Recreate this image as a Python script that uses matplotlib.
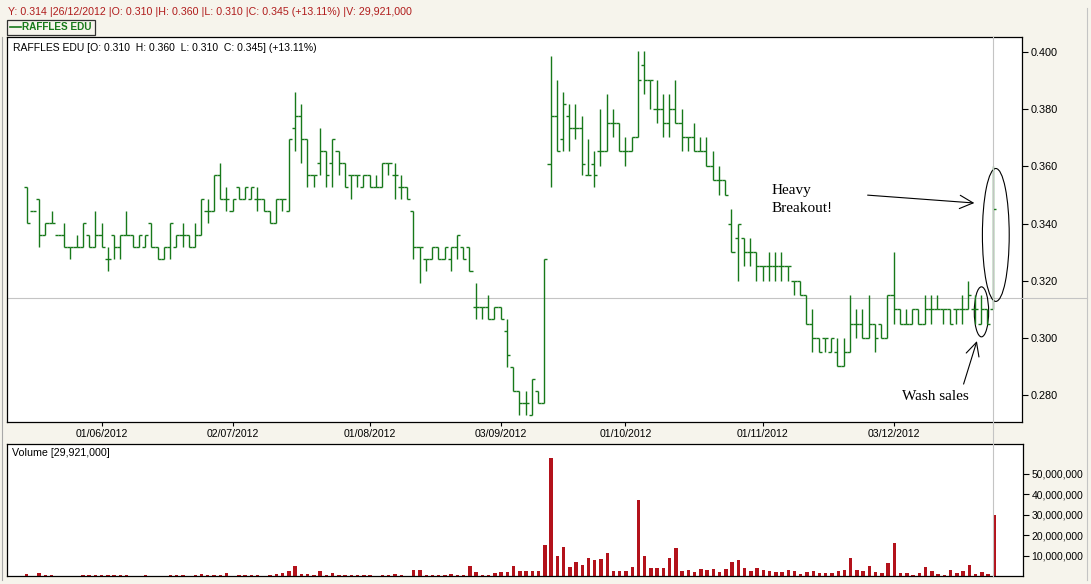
import numpy as np
import pandas as pd
import matplotlib
matplotlib.use("Agg")
import matplotlib.pyplot as plt
from matplotlib.patches import Ellipse, Rectangle
from matplotlib.lines import Line2D
from matplotlib.ticker import FuncFormatter
from matplotlib.transforms import ScaledTranslation

W, H = 1091, 584

# SGX trading days 16 May - 26 Dec 2012
holidays = ["2012-08-09", "2012-08-20", "2012-10-26", "2012-11-13", "2012-12-25"]
dates = pd.bdate_range("2012-05-16", "2012-12-26", freq="C", holidays=holidays)

opens = [
    .3527, .3443, .3485, .3359, .3401, .3359, .3359, .3317, .3317, .3317,
    .3359, .3317, .3359, .3275, .3359, .3317, .3359, .3359, .3317, .3317,
    .3401, .3317, .3275, .3317, .3317, .3359, .3359, .3317, .3359, .3443,
    .3443, .3569, .3485, .3443, .3527, .3485, .3485, .3485, .3485, .3443,
    .3401, .3485, .3443, .3733, .3776, .3695, .3569, .3611, .3653, .3611,
    .3653, .3611, .3569, .3569, .3527, .3569, .3527, .3527, .3611, .3569,
    .3527, .3527, .3443, .3317, .3275, .3275, .3317, .3275, .3275, .3317,
    .3317, .3317, .3107, .3107, .3107, .3065, .3107, .3023, .2897, .2813,
    .2771, .2729, .2813, .2771, .3608, .3776, .3695, .3776, .3734, .3734,
    .3569, .3608, .3653, .3653, .3751, .3751, .3653, .3653, .3702, .3953,
    .3902, .3802, .3802, .3751, .3802, .3751, .3702, .3702, .3653, .3653,
    .3601, .3552, .3552, .340, .335, .335, .330, .330, .325, .325,
    .325, .325, .325, .320, .320, .315, .305, .300, .300, .295,
    .295, .290, .295, .305, .305, .300, .305, .305, .300, .315,
    .310, .305, .305, .310, .305, .310, .310, .310, .310, .310,
    .310, .310, .310, .305, .310, .310,
]
highs = [
    .3527, .3443, .3485, .3401, .3443, .3359, .3401, .3317, .3359, .3401,
    .3359, .3443, .3401, .3317, .3359, .3359, .3443, .3359, .3359, .3359,
    .3401, .3317, .3317, .3401, .3359, .3401, .3359, .3401, .3485, .3485,
    .3569, .3611, .3527, .3485, .3527, .3527, .3527, .3527, .3485, .3443,
    .3485, .3485, .3695, .3860, .3818, .3695, .3569, .3733, .3653, .3695,
    .3653, .3611, .3569, .3569, .3569, .3569, .3569, .3611, .3611, .3611,
    .3569, .3527, .3443, .3317, .3275, .3317, .3317, .3317, .3317, .3359,
    .3317, .3317, .3191, .3107, .3149, .3107, .3107, .3065, .2897, .2813,
    .2813, .2855, .2813, .3275, .3986, .3902, .3860, .3818, .3818, .3776,
    .3695, .3653, .3802, .3853, .3802, .3751, .3702, .3702, .4002, .4002,
    .3902, .3902, .3853, .3853, .3902, .3802, .3702, .3751, .3702, .3702,
    .3653, .3601, .3552, .345, .340, .335, .335, .330, .325, .330,
    .330, .330, .325, .320, .320, .315, .310, .300, .300, .300,
    .300, .300, .315, .310, .310, .315, .305, .305, .315, .330,
    .310, .310, .310, .310, .315, .315, .315, .310, .310, .310,
    .315, .320, .315, .315, .310, .360,
]
lows = [
    .3401, .3443, .3317, .3359, .3401, .3359, .3317, .3275, .3317, .3317,
    .3317, .3317, .3317, .3233, .3275, .3275, .3359, .3317, .3317, .3317,
    .3317, .3275, .3275, .3275, .3317, .3317, .3317, .3317, .3359, .3401,
    .3443, .3485, .3443, .3443, .3485, .3485, .3485, .3443, .3443, .3401,
    .3401, .3443, .3443, .3653, .3611, .3527, .3527, .3569, .3527, .3527,
    .3569, .3527, .3485, .3527, .3527, .3527, .3527, .3527, .3569, .3485,
    .3485, .3485, .3275, .3191, .3233, .3275, .3275, .3275, .3233, .3275,
    .3275, .3233, .3065, .3065, .3065, .3065, .3065, .2897, .2813, .2729,
    .2729, .2729, .2771, .2771, .3529, .3653, .3653, .3653, .3695, .3569,
    .3569, .3527, .3601, .3653, .3702, .3653, .3601, .3653, .3702, .3853,
    .3802, .3751, .3702, .3702, .3751, .3653, .3653, .3653, .3653, .3601,
    .3552, .3499, .3499, .330, .320, .325, .325, .320, .320, .320,
    .320, .320, .320, .315, .315, .305, .295, .295, .295, .295,
    .290, .290, .295, .300, .300, .300, .295, .300, .300, .305,
    .305, .305, .305, .305, .305, .305, .310, .305, .305, .305,
    .305, .310, .305, .305, .305, .310,
]
closes = [
    .3401, .3443, .3359, .3401, .3401, .3359, .3317, .3317, .3317, .3401,
    .3317, .3359, .3317, .3275, .3317, .3359, .3359, .3317, .3359, .3359,
    .3317, .3275, .3317, .3401, .3359, .3359, .3317, .3359, .3485, .3443,
    .3569, .3485, .3485, .3485, .3485, .3527, .3527, .3485, .3443, .3401,
    .3485, .3485, .3695, .3776, .3695, .3569, .3569, .3653, .3569, .3695,
    .3611, .3527, .3569, .3569, .3569, .3527, .3527, .3611, .3611, .3569,
    .3527, .3485, .3317, .3317, .3275, .3317, .3275, .3317, .3317, .3359,
    .3275, .3233, .3107, .3107, .3065, .3107, .3065, .2939, .2813, .2771,
    .2771, .2855, .2771, .3275, .3776, .3653, .3818, .3734, .3734, .3608,
    .3569, .3569, .3653, .3751, .3751, .3653, .3653, .3702, .3902, .3902,
    .3902, .3802, .3751, .3802, .3751, .3702, .3702, .3653, .3653, .3601,
    .3552, .3552, .3499, .330, .340, .330, .330, .325, .325, .325,
    .325, .325, .325, .320, .315, .305, .300, .295, .300, .300,
    .290, .295, .305, .305, .300, .305, .300, .300, .315, .310,
    .305, .305, .310, .305, .310, .310, .310, .310, .305, .310,
    .310, .315, .310, .310, .305, .345,
]
# volume in millions of shares
volumes_m = [
    1.0, 0.0, 1.5, 0.6, 0.6, 0.0, 0.2, 0.2, 0.2, 0.6,
    0.6, 0.6, 0.6, 0.6, 0.6, 0.6, 0.6, 0.2, 0.2, 0.6,
    0.2, 0.2, 0.2, 0.6, 0.6, 0.6, 0.2, 0.6, 1.0, 0.6,
    0.6, 0.6, 1.3, 0.2, 0.6, 0.6, 0.6, 0.6, 0.2, 0.6,
    1.0, 1.3, 2.3, 5.1, 1.0, 1.0, 0.6, 2.6, 0.6, 1.6,
    0.6, 0.6, 0.6, 0.6, 0.6, 0.6, 0.2, 0.6, 0.6, 1.0,
    0.6, 0.2, 3.1, 3.1, 0.6, 0.6, 0.6, 0.6, 1.0, 0.6,
    0.6, 5.1, 1.8, 0.6, 0.6, 1.3, 1.8, 2.1, 5.1, 2.3,
    2.6, 2.6, 2.3, 15.0, 57.4, 10.0, 14.0, 4.3, 7.0, 5.6,
    8.7, 7.6, 8.2, 11.0, 2.6, 2.6, 2.6, 4.6, 37.2, 10.0,
    4.1, 4.1, 4.1, 9.0, 13.5, 2.6, 3.1, 2.1, 3.6, 3.1,
    3.6, 2.1, 3.6, 7.0, 7.6, 4.1, 2.6, 4.1, 3.1, 2.6,
    2.1, 2.1, 3.1, 2.6, 1.2, 2.1, 2.6, 1.6, 1.6, 1.6,
    2.6, 3.1, 9.0, 3.1, 2.6, 5.1, 2.1, 1.6, 6.1, 16.0,
    1.6, 1.6, 0.7, 1.6, 4.6, 2.6, 1.2, 0.7, 3.1, 1.6,
    2.6, 5.6, 1.2, 2.1, 1.2, 29.921,
]
label_dates = ["2012-06-01", "2012-07-02", "2012-08-01", "2012-09-03",
               "2012-10-01", "2012-11-01", "2012-12-03"]
price_ticks = [0.28, 0.30, 0.32, 0.34, 0.36, 0.38, 0.40]
volume_ticks = [10, 20, 30, 40, 50]

GREEN = "#17791a"
RED = "#b3121b"
BG = "#f6f4ec"
GREY = "#c4c4c4"
FONT = "Liberation Sans"


# axes box from pixel edges
def px_box(x0, y0, x1, y1):
    return [x0 / W, 1 - y1 / H, (x1 - x0) / W, (y1 - y0) / H]


def fx(x):
    return x / W


def fy(y):
    return 1 - y / H


idx = np.arange(len(dates))
o, h, l, c = map(np.array, (opens, highs, lows, closes))
vol = np.array(volumes_m) * 1e6

fig = plt.figure(figsize=(W / 100, H / 100), dpi=100, facecolor=BG)
plt.rcParams["font.family"] = [FONT, "DejaVu Sans"]

# --- price panel (OHLC bars) ---
ax = fig.add_axes(px_box(7, 37, 1022, 422), facecolor="white")
ax.vlines(idx, l, h, color=GREEN, lw=1.0)
ax.hlines(o, idx - 0.5, idx, color=GREEN, lw=1.0)
ax.hlines(c, idx, idx + 0.5, color=GREEN, lw=1.0)
ax.set_xlim(-3.16, 159.6)
ax.set_ylim(0.27056, 0.40525)
ax.yaxis.tick_right()
ax.set_yticks(price_ticks)
ax.yaxis.set_major_formatter(FuncFormatter(lambda v, p: f"{v:.3f}"))
tick_pos = [dates.get_loc(pd.Timestamp(d)) for d in label_dates]
ax.set_xticks(tick_pos)
ax.set_xticklabels([pd.Timestamp(d).strftime("%d/%m/%Y") for d in label_dates])
shift = ScaledTranslation(3 / 100, 0, fig.dpi_scale_trans)
for lab in ax.get_xticklabels():
    lab.set_transform(lab.get_transform() + shift)
ax.tick_params(axis="y", direction="out", length=4, width=0.8, labelsize=7.8, pad=2)
ax.tick_params(axis="x", direction="out", length=3, width=0.8, labelsize=7.6, pad=2)
for s in ax.spines.values():
    s.set_linewidth(0.9)

# cross-hair at Y 0.314 and the last bar
ax.axhline(0.314, color=GREY, lw=0.8, zorder=0)
fig.add_artist(Line2D([fx(1022), fx(1087)], [fy(298), fy(298)], color=GREY, lw=0.8))
fig.add_artist(Line2D([fx(1087), fx(1087)], [fy(8), fy(580)], color=GREY, lw=0.8))
fig.add_artist(Line2D([fx(2), fx(2)], [fy(37), fy(580)], color="#a8a8a8", lw=0.8))

ax.text(0.006, 0.985, "RAFFLES EDU [O: 0.310  H: 0.360  L: 0.310  C: 0.345] (+13.11%)",
        transform=ax.transAxes, ha="left", va="top", fontsize=7.5, color="black")

# hand-drawn annotations
ax.add_patch(Ellipse((155.4, 0.3360), 4.3, 0.0465, fill=False, ec="black", lw=0.8))
ax.add_patch(Ellipse((153.1, 0.3091), 2.3, 0.0175, fill=False, ec="black", lw=0.8))
ax.annotate("", xy=(152.4, 0.3471), xytext=(134.4, 0.3500),
            arrowprops=dict(arrowstyle="->", color="black", lw=0.8, mutation_scale=24))
ax.annotate("", xy=(152.5, 0.2998), xytext=(150.1, 0.2829),
            arrowprops=dict(arrowstyle="->", color="black", lw=0.8, mutation_scale=24))
serif = dict(family="Liberation Serif", fontsize=11, color="black")
ax.text(119.5, 0.3517, "Heavy", ha="left", va="center", **serif)
ax.text(119.5, 0.3452, "Breakout!", ha="left", va="center", **serif)
ax.text(145.7, 0.2796, "Wash sales", ha="center", va="center", **serif)

# --- volume panel ---
ax2 = fig.add_axes(px_box(7, 444, 1023, 576), facecolor="white")
ax2.bar(idx, vol, width=0.55, color=RED, edgecolor="none")
ax2.set_xlim(-3.16, 159.6)
ax2.set_ylim(0, 64.4e6)
ax2.yaxis.tick_right()
ax2.set_yticks([v * 1e6 for v in volume_ticks])
ax2.yaxis.set_major_formatter(FuncFormatter(lambda v, p: f"{int(v):,}"))
ax2.set_xticks([])
ax2.tick_params(axis="y", direction="out", length=4, width=0.8, labelsize=7.5, pad=2)
for s in ax2.spines.values():
    s.set_linewidth(0.9)
ax2.text(0.005, 0.97, "Volume [29,921,000]", transform=ax2.transAxes,
         ha="left", va="top", fontsize=7.7, color="black")

# vertical cross-hair through both panels
fig.add_artist(Line2D([fx(993.3), fx(993.3)], [fy(37), fy(576)], color=GREY, lw=0.8, zorder=0.5))

# header line and legend box
fig.text(fx(8), fy(12), "Y: 0.314 |26/12/2012 |O: 0.310 |H: 0.360 |L: 0.310 |C: 0.345 (+13.11%) |V: 29,921,000",
         ha="left", va="center", fontsize=7.7, color="#b01c1c")
fig.add_artist(Rectangle((fx(7), fy(34.5)), (95 - 7) / W, 14.5 / H, fill=False,
                         ec="#303030", lw=0.9, transform=fig.transFigure))
fig.add_artist(Line2D([fx(10), fx(21)], [fy(27), fy(27)], color=GREEN, lw=1.2))
fig.text(fx(22), fy(27.5), "RAFFLES EDU", ha="left", va="center", fontsize=7.2,
         fontweight="bold", color=GREEN)

fig.savefig("out.png", dpi=100, facecolor=BG)
